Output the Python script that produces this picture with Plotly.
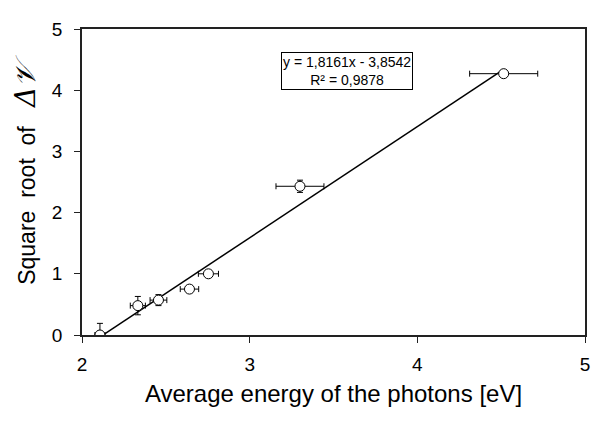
import numpy as np
import plotly.graph_objects as go

# Data
energy = [2.107, 2.333, 2.456, 2.641, 2.754, 3.30, 4.515]
sqrt_dv = [0.00, 0.48, 0.57, 0.75, 1.00, 2.43, 4.27]
x_err = [0.03, 0.045, 0.05, 0.055, 0.06, 0.143, 0.203]
y_err_plus = [0.19, 0.15, 0.09, 0.02, 0.02, 0.10, 0.05]
y_err_minus = [0.00, 0.15, 0.09, 0.02, 0.02, 0.10, 0.05]
x_ticks = [2, 3, 4, 5]
y_ticks = [0, 1, 2, 3, 4, 5]
eq_text = "y = 1,8161x - 3,8542<br>R² = 0,9878"

slope, intercept = np.polyfit(energy, sqrt_dv, 1)
fit_x = np.array([min(energy), max(energy)])
fit_y = slope * fit_x + intercept

FONT = "Liberation Sans, Arial, sans-serif"

fig = go.Figure()
fig.add_trace(go.Scatter(
    x=fit_x, y=fit_y, mode="lines",
    line=dict(color="black", width=1.5), showlegend=False, hoverinfo="skip"))
fig.add_trace(go.Scatter(
    x=energy, y=sqrt_dv, mode="markers",
    marker=dict(symbol="circle", size=10, color="white",
                line=dict(color="black", width=1)),
    error_x=dict(type="data", array=x_err, color="black", thickness=1, width=3),
    error_y=dict(type="data", array=y_err_plus, arrayminus=y_err_minus,
                 color="black", thickness=1, width=3),
    showlegend=False))

fig.add_annotation(
    x=0.527, y=0.862, xref="paper", yref="paper", text=eq_text, showarrow=False,
    xanchor="center", yanchor="middle",
    font=dict(family=FONT, size=14, color="black"), align="center",
    bordercolor="black", borderwidth=1, borderpad=1, bgcolor="white")

fig.add_annotation(
    x=-0.113, y=0.158, xref="paper", yref="paper",
    xanchor="center", yanchor="bottom",
    text="Square&nbsp; root&nbsp; of&nbsp;&nbsp; "
         "<i><span style='font-family:DejaVu Serif;font-size:28px'>Δ𝒱</span></i>",
    showarrow=False, textangle=-90,
    font=dict(family=FONT, size=23, color="black"))

axis_common = dict(
    showline=True, linecolor="#222", linewidth=1.5, mirror=True,
    ticks="outside", ticklen=6, tickcolor="#222", tickwidth=1,
    showgrid=False, zeroline=False,
    tickfont=dict(family=FONT, size=19, color="black"))

# the page body has an 8px margin, so the figure is 8px smaller each way
fig.update_layout(
    width=594, height=416,
    margin=dict(l=74, r=17, t=11, b=89),
    paper_bgcolor="white", plot_bgcolor="white",
    xaxis=dict(range=[2, 5], tickvals=x_ticks, ticklabelstandoff=5,
               title=dict(text="Average energy of the photons [eV]",
                          font=dict(family=FONT, size=24, color="black"),
                          standoff=12),
               **axis_common),
    yaxis=dict(range=[0, 5], tickvals=y_ticks, ticklabelstandoff=8,
               **axis_common),
)

fig.write_html("out.html")
